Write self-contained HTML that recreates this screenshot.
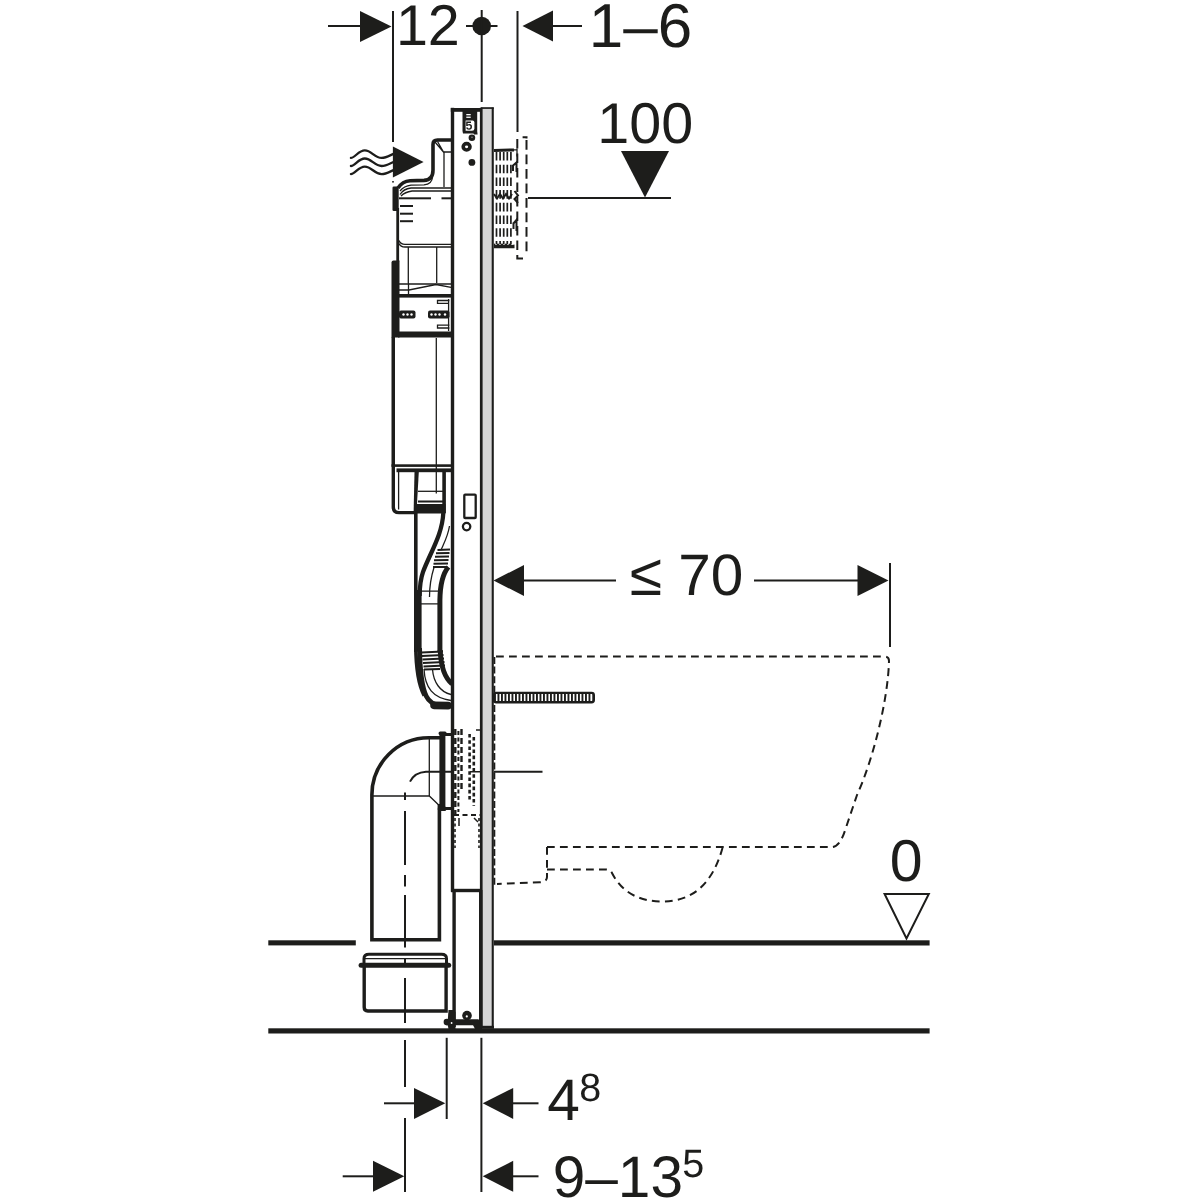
<!DOCTYPE html>
<html lang="en">
<head>
<meta charset="utf-8">
<title>Installation dimensions – side view</title>
<style>
  html, body { margin: 0; padding: 0; background: #fff; }
  body { width: 1200px; height: 1200px; overflow: hidden; }
  svg { display: block; will-change: transform; }
  text { font-family: "Liberation Sans", Arial, Helvetica, sans-serif; fill: #1d1d1b; text-rendering: geometricPrecision; }
  .k { fill: #1d1d1b; stroke: none; }
  .l { fill: none; stroke: #1d1d1b; stroke-width: 2; }
  .t { fill: none; stroke: #1d1d1b; stroke-width: 1.3; }
  .m { fill: none; stroke: #1d1d1b; stroke-width: 3; }
  .h { fill: none; stroke: #1d1d1b; stroke-width: 4; }
  .d { fill: none; stroke: #1d1d1b; stroke-width: 2; stroke-dasharray: 7.8 5.2; }
</style>
</head>
<body>
<svg width="1200" height="1200" viewBox="0 0 1200 1200">
<rect x="0" y="0" width="1200" height="1200" fill="#ffffff"/>

<!-- ===== TOP DIMENSIONS ===== -->
<g id="topdims">
  <line class="l" x1="328" y1="26" x2="362" y2="26"/>
  <polygon class="k" points="360,11 360,42 391.5,26.5"/>
  <line class="l" x1="393" y1="11" x2="393" y2="142"/>
  <text x="395.9" y="45.3" font-size="57.5">12</text>
  <circle class="k" cx="481.7" cy="26" r="9.3"/>
  <line class="l" x1="466" y1="26" x2="497.5" y2="26"/>
  <line class="l" x1="481.7" y1="10" x2="481.7" y2="102"/>
  <line class="l" x1="517.5" y1="11" x2="517.5" y2="132"/>
  <polygon class="k" points="522.5,26 553,10.5 553,41.5"/>
  <line class="l" x1="552" y1="26" x2="582" y2="26"/>
  <text x="588.8" y="47" font-size="62">1–6</text>
  <text x="597.3" y="142.8" font-size="57.5">100</text>
  <polygon class="k" points="621,151 669,151 645,197.5"/>
  <line class="l" x1="528" y1="198" x2="671" y2="198"/>
</g>

<!-- ===== FRAME ===== -->
<g id="frame">
  <rect x="482" y="107.6" width="10.5" height="920.4" fill="#d6d6d6"/>
  <rect class="k" x="479.9" y="107.6" width="2.7" height="920.4"/>
  <rect class="k" x="491.7" y="107.6" width="2.1" height="920.4"/>
  <rect class="k" x="481" y="107.2" width="12.8" height="1.7"/>
  <rect class="k" x="450.8" y="107.8" width="3.4" height="784"/>
  <rect class="k" x="450.8" y="108" width="31" height="3.8"/>
</g>

<!-- ===== FLOOR ===== -->
<g id="floor">
  <rect class="k" x="268.3" y="940.3" width="87.5" height="5.1"/>
  <rect class="k" x="494" y="940.3" width="435.6" height="5.2"/>
  <rect class="k" x="268.3" y="1028.3" width="661.3" height="5.2"/>
</g>


<!-- ===== INLET ARROW + WAVES ===== -->
<g id="inlet">
  <path d="M350.9,157.9 C355.0,157.9 358.5,150.4 364.8,150.4 C371.5,150.4 374.5,157.9 381.6,157.9 C386.0,157.9 389.5,155.6 393.5,153.9" fill="none" stroke="#1d1d1b" stroke-width="2.3" stroke-linecap="round"/>
  <path d="M350.9,166.0 C355.0,166.0 358.5,158.5 364.8,158.5 C371.5,158.5 374.5,166.0 381.6,166.0 C386.0,166.0 389.5,163.7 393.5,162.0" fill="none" stroke="#1d1d1b" stroke-width="2.3" stroke-linecap="round"/>
  <path d="M350.9,174.1 C355.0,174.1 358.5,166.6 364.8,166.6 C371.5,166.6 374.5,174.1 381.6,174.1 C386.0,174.1 389.5,171.8 393.5,170.1" fill="none" stroke="#1d1d1b" stroke-width="2.3" stroke-linecap="round"/>
  <polygon class="k" points="392.9,146.6 392.9,177.4 423.6,162"/>
  <rect class="k" x="392.2" y="181" width="1.6" height="1.6"/>
</g>

<!-- ===== CISTERN ===== -->
<g id="cistern">
  <!-- top knob outline -->
  <path d="M451,140 L437.5,140 Q433,140 433,144.5 L433,170 Q433,180 424,180.4 L410,180.7 Q402.5,181.2 398,188" fill="none" stroke="#1d1d1b" stroke-width="3.6"/>
  <path class="t" d="M451,152 L443.5,152 L435,142 M443.5,152 L437.5,141.5"/>
  <path class="t" d="M444,151.7 L444,187"/>
  <path class="t" d="M432.5,177 Q432,184.3 424,184.8 L411,185.2 Q404,186 400,191"/>
  <path class="t" d="M451,188 L411,188 Q403.5,188.8 400,194.5 M451,191 L412,191 Q405,192 401,196"/>
  <!-- left black bars -->
  <rect class="k" x="392.5" y="186.5" width="6.2" height="24.5" rx="1.3"/>
  <rect class="k" x="396.3" y="208" width="2.8" height="54"/>
  <path class="k" d="M391.5,337.5 L391.5,262.5 Q391.5,260.5 393.5,260.5 L399.5,260.5 L399.5,337.5 Z"/>
  <!-- inner details -->
  <line class="l" x1="399" y1="198.3" x2="431" y2="198.3"/>
  <line class="l" x1="441.5" y1="198.3" x2="451" y2="198.3"/>
  <line class="l" x1="400" y1="206" x2="413" y2="206"/>
  <line class="l" x1="400" y1="213.7" x2="413" y2="213.7"/>
  <line class="l" x1="400" y1="221.2" x2="413" y2="221.2"/>
  <path class="t" d="M399,240.5 Q400.5,244.4 405,244.4 L451,244.4 M399,243.5 Q400.5,247 405,247 L451,247"/>
  <line class="t" x1="408.3" y1="247" x2="408.3" y2="283"/>
  <line class="t" x1="436.7" y1="247" x2="436.7" y2="283"/>
  <line class="t" x1="399" y1="284" x2="451" y2="284"/>
  <path class="t" d="M399,290 L409,290 L436,284.5 L451,287.3"/>
  <line class="t" x1="408.5" y1="283" x2="408.5" y2="295"/>
  <rect class="k" x="398" y="294" width="53" height="3.6"/>
  <rect class="k" x="398" y="331.5" width="53" height="6"/>
  <!-- clamp box details -->
  <rect class="k" x="399" y="310.5" width="16.5" height="8" rx="2"/>
  <rect class="k" x="428" y="310.5" width="21.5" height="8" rx="2"/>
  <g fill="#fff"><circle cx="403.5" cy="314.5" r="1.2"/><circle cx="407.5" cy="314.5" r="1.2"/><circle cx="411.5" cy="314.5" r="1.2"/>
  <circle cx="431.5" cy="314.5" r="1.2"/><circle cx="435.5" cy="314.5" r="1.2"/><circle cx="439.5" cy="314.5" r="1.2"/><circle cx="445" cy="314.5" r="1.2"/></g>
  <path class="t" d="M449.5,300.5 L437.5,300.5 L437.5,303.3 L448,303.3 M449.5,325.2 L437.5,325.2 L437.5,328 L449.5,328 M448.6,299 L448.6,331"/>
  <!-- lower tank rectangle -->
  <rect class="k" x="391.5" y="337" width="3.5" height="129"/>
    <line class="t" x1="436.3" y1="338" x2="436.3" y2="493.5"/>
  <rect class="k" x="391.5" y="464.3" width="59.5" height="2.6"/>
  <rect class="k" x="396.5" y="468.4" width="54.5" height="3.8"/>
  <!-- bottom part -->
  <path d="M393.3,466 L393.3,507 Q393.3,512.6 399,512.6 L415,512.6" fill="none" stroke="#1d1d1b" stroke-width="3.4"/>
  <path class="t" d="M398.6,471.5 L398.6,509.5"/>
  <path d="M414.5,472 L418.8,472 L416.5,513 L413.6,513 Z" class="k"/>
  <rect class="k" x="414" y="504" width="31.5" height="9.5"/>
  <rect class="k" x="442.3" y="472" width="3.6" height="41"/>
  <line class="t" x1="418" y1="491.3" x2="443" y2="491.3"/>
  <line class="l" x1="418" y1="501.5" x2="443" y2="501.5"/>
</g>


<!-- ===== FRAME TOP BRACKET / HOLES ===== -->
<g id="bracket">
  <path class="k" d="M462.5,111 L477.2,111 L477.2,131.2 L477.6,134.6 L474,134.6 L473.5,133.4 L463,133.4 L462.5,131 Z"/>
  <rect x="466.3" y="114" width="4.4" height="1.3" fill="#fff"/>
  <rect x="466.3" y="116.6" width="4.4" height="1.3" fill="#fff"/>
  <path d="M465.6,120.4 L472.6,120.4 Q474.4,120.4 474.4,122.5 L474.4,128.5 Q474.4,130.8 472,130.8 L465.6,130.8 Z" fill="#fff"/>
  <path d="M466.2,121.6 L471,121.6 L471,122.9 L467.6,122.9 L467.6,124.4 Q468.4,124 469.3,124 Q472,124 472,126.8 Q472,129.8 469,129.8 Q466.6,129.8 466,127.8 L467.4,127.3 Q467.8,128.5 469,128.5 Q470.5,128.5 470.5,126.8 Q470.5,125.3 469,125.3 Q468,125.3 467.5,126 L466.2,126 Z" class="k"/>
  <circle class="k" cx="471.9" cy="137.8" r="3.3"/>
  <circle cx="472" cy="137.2" r="0.8" fill="#8a8a8a"/>
  <ellipse cx="466.6" cy="146.8" rx="3.4" ry="3.2" fill="#fff" stroke="#1d1d1b" stroke-width="3.6"/>
  <circle class="k" cx="471.9" cy="162.4" r="3.4"/>
  <!-- small rectangle + hole mid frame -->
  <rect x="464.3" y="494.6" width="11.4" height="23.4" rx="0.8" fill="#fff" stroke="#1d1d1b" stroke-width="2.3"/>
  <circle cx="466.6" cy="526.6" r="3.7" fill="#fff" stroke="#1d1d1b" stroke-width="2.3"/>
</g>

<!-- ===== WALL ANCHOR (dashed) ===== -->
<g id="anchor">
  <path d="M517.3,139 L517.3,258.4 L523,258.4" fill="none" stroke="#1d1d1b" stroke-width="2" stroke-dasharray="9.5 5"/>
  <path class="l" d="M522.6,137.2 L526.5,137.2 L526.5,138.6"/>
  <path d="M526.5,140.1 L526.5,255" fill="none" stroke="#1d1d1b" stroke-width="2" stroke-dasharray="9.6 4.9"/>
  <path class="m" d="M494,150.6 L514,149.9"/>
  <path class="t" d="M514,149.9 L517.5,149.9 M517,148.5 L517,156.5"/>
  <path class="k" d="M494,243.2 L496,245 L498,243.2 L500,245 L502,243.2 L504,245 L506,243.2 L508,245 L510,243.2 L512,245 L514.5,244.6 L514.5,248.2 L494,248.2 Z"/>
  <g stroke="#1d1d1b" stroke-width="1.7" fill="none" stroke-dasharray="8.6 4.1">
    <line x1="496.5" y1="152" x2="496.5" y2="244"/>
    <line x1="500.1" y1="152" x2="500.1" y2="244"/>
    <line x1="503.7" y1="152" x2="503.7" y2="244"/>
    <line x1="507.3" y1="152" x2="507.3" y2="244"/>
    <line x1="510.9" y1="152" x2="510.9" y2="244"/>
  </g>
  <path class="l" d="M512.5,166 L516.5,162.5 L516.5,172 M513,165 L513,171 M494,194 L497,198.5 L500,194 L503,198.5 L506,194 L509,198.5 L512,194 M514.5,191 L518,195.5 L514.5,199 L518,203 M513,224 L516.5,220 L516.5,231 M513.5,222.5 L513.5,229"/>
</g>


<!-- ===== FLUSH PIPE + HOSE ===== -->
<g id="hose">
  <!-- flush pipe outer-left edge and hose left edge (adjacent) -->
  <rect class="k" x="414" y="512" width="3.6" height="140"/>
  <rect class="k" x="417" y="590" width="4.6" height="61"/>
  <!-- hose S-curve -->
  <path d="M443.3,513 C442.3,535 430,553 423,572 Q419.8,581 419.6,596" fill="none" stroke="#1d1d1b" stroke-width="4.3"/>
  <path class="t" d="M449.5,526 C448,536 444,543 441,550"/>
  <!-- upper coil -->
  <path class="l" d="M437.5,550 L450,549.5 M436,553.3 L449.5,553 M435,556.8 L449,556.5 M434,560.3 L448.5,560 M433.5,563.8 L448,563.5 M433,567 L447.5,567"/>
  <path class="t" d="M434,567.5 C431,577 429.5,586 429.5,597"/>
  <path d="M448.3,567 C441.8,575 440.1,586 439.9,600 L439.9,652" fill="none" stroke="#1d1d1b" stroke-width="5"/>
  <path class="t" d="M421,591.2 L438,591.2 M421,603.8 L438,603.8"/>
  <!-- lower coil -->
  <path class="l" d="M421.5,652.5 L443,651.5 M422,656 L443.5,655 M422.5,659.5 L444,658.5 M423,663 L444.5,662 M423.5,666.5 L445,665.5 M424,669.5 L440,669"/>
  <!-- lower elbow -->
  <path d="M419.6,648 C419.9,670 421.3,686 426.3,696.3 Q430.3,704.4 440,705.4 L451,705.6" fill="none" stroke="#1d1d1b" stroke-width="4.8"/>
  <path d="M434,705.4 L448,705.6" fill="none" stroke="#1d1d1b" stroke-width="7.6" stroke-linecap="round"/>
  <path d="M415.8,645 C415.9,668 418,684 424.2,695.6" fill="none" stroke="#1d1d1b" stroke-width="3.6"/>
  <path d="M440.2,650 C440.8,666 445,678 452,683.8" fill="none" stroke="#1d1d1b" stroke-width="5"/>
  <path class="t" d="M424,669 C425,688 433,698 451,700.5 M432.5,669.5 C433.5,682 440,692 451,694.5"/>
</g>

<!-- ===== DRAIN ELBOW + PIPE ===== -->
<g id="drain">
  <path d="M440,737.8 L428.9,737.8 A57,57 0 0 0 371.9,794.8 L371.9,939.8 L439.4,939.8 L439.4,804" fill="none" stroke="#1d1d1b" stroke-width="3.6"/>
  <rect class="k" x="439.4" y="733" width="6" height="77.5"/>
  <rect class="k" x="438.6" y="731.4" width="8" height="3.6" rx="1.6"/>
  <rect class="k" x="437.8" y="806.5" width="8.6" height="4.4" rx="1.6"/>
  <path d="M445,808.6 L451,808.6 M445,734.6 L451,734.6" fill="none" stroke="#1d1d1b" stroke-width="3"/>
  <line class="t" x1="429.3" y1="738" x2="429.3" y2="796"/>
  <path class="l" d="M451,771.8 L426,771.8 C419,772.2 413,775.8 410,781.6"/>
  <path class="t" d="M373,796 L429.3,796 L439,805.2"/>
  <line class="l" x1="494" y1="771.7" x2="542.5" y2="771.7"/>
  <!-- centre line -->
  <path class="l" d="M405,792.5 L405,800 M405,811 L405,865 M405,875 L405,886.5 M405,895 L405,947.5 M405,958 L405,964 M405,978 L405,1023 M405,1040 L405,1087 M405,1118 L405,1192"/>
</g>

<!-- ===== CONNECTOR IN FRAME (hidden lines) ===== -->
<g id="connector">
  <g stroke="#1d1d1b" fill="none">
    <path stroke-width="2.4" stroke-dasharray="6 3" d="M455.3,729 L455.3,814 M461.5,729 L461.5,790"/>
    <path stroke-width="2" stroke-dasharray="4 2.5" d="M458.4,731 L458.4,812"/>
    <path stroke-width="2.6" stroke-dasharray="3.6 2.6" d="M469.6,734 L469.6,800 M473.8,737 L473.8,806"/>
    <path stroke-width="2" stroke-dasharray="5 3.5" d="M454,815 L480,815"/>
    <path stroke-width="1.6" stroke-dasharray="3 2.5" d="M455,818 L455,848 M479,818 L479,848"/>
    <path stroke-width="1.5" d="M476,730 L480,730 M470,771.7 L480,771.7 M459,818 L459,826 M474,818 L478,822"/>
  </g>
</g>

<!-- ===== FRAME LEG + FOOT ===== -->
<g id="leg">
  <rect class="k" x="451" y="888.8" width="30" height="3.4"/>
  <rect class="k" x="452.4" y="890" width="3.4" height="137"/>
  <rect class="k" x="479" y="890" width="3.4" height="137"/>
  <circle class="k" cx="467" cy="1015.6" r="4.8"/>
  <circle cx="466.8" cy="1016.4" r="1.1" fill="#fff"/>
  <rect class="k" x="445" y="1019.2" width="34.5" height="6" rx="1.5"/>
  <circle class="k" cx="446.8" cy="1022" r="3.2"/>
  <path class="k" d="M448.5,1010 L453,1010 L455.5,1012 L455.5,1029 L448.5,1029 L447.5,1024 Z"/>
  <circle cx="451.6" cy="1023" r="0.9" fill="#fff"/>
  <path class="k" d="M472.5,1024 L482,1024 L482,1029 L475,1029 Z"/>
  <rect class="k" x="481" y="1025.8" width="13" height="3"/>
</g>

<!-- ===== FLOOR SOCKET ===== -->
<g id="socket">
  <path class="m" d="M364,964 L364,958.5 Q364,954.3 369,954.3 L441.5,954.3 Q446.5,954.3 446.5,958.5 L446.5,964"/>
  <line class="t" x1="365" y1="958.6" x2="446" y2="958.6"/>
  <rect class="k" x="358.6" y="962.8" width="92.6" height="5" rx="2.5"/>
  <path d="M364.2,967 L364.2,1007.3 Q364.2,1011 367.8,1011 L446.1,1011 L446.1,967" fill="none" stroke="#1d1d1b" stroke-width="3.4"/>
</g>

<!-- ===== THREADED ROD ===== -->
<g id="rod">
  <rect x="494" y="692.9" width="99.8" height="9.4" rx="2.2" fill="#fff" stroke="#1d1d1b" stroke-width="2.4"/>
  <path d="M494,697.6 L592.5,697.6" stroke="#1d1d1b" stroke-width="8" stroke-dasharray="1.9 1.6" fill="none"/>
</g>


<!-- ===== DIMENSION <= 70 ===== -->
<g id="dim70">
  <polygon class="k" points="493.5,580.5 524,565 524,596"/>
  <line class="l" x1="523" y1="580.5" x2="616" y2="580.5"/>
  <text x="629.8" y="594.7" font-size="59">≤</text>
  <text x="678.3" y="594.8" font-size="58.5">70</text>
  <line class="l" x1="754" y1="580.5" x2="858.5" y2="580.5"/>
  <polygon class="k" points="857.5,565 857.5,596 888.5,580.5"/>
  <line class="l" x1="890" y1="563" x2="890" y2="647"/>
</g>

<!-- ===== WC BOWL OUTLINE (dashed) ===== -->
<g id="bowl">
  <path class="d" d="M496,656.5 L884.5,656.5 Q889,656.5 889,661 C888,700 873,760 857,795 L845.5,829 Q840,847 832,847 L547,847"/>
  <path class="d" d="M547,847 L547,877 Q547,882 540,882.3 L497,884"/>
  <path class="d" d="M547,869.5 L606,869.5 Q610,869.5 612,873 C622,893 640,901.5 662,901.5 C692,901.5 712,885 722.5,848"/>
  <path d="M494.4,657 L494.4,885" fill="none" stroke="#1d1d1b" stroke-width="1.8" stroke-dasharray="7 2.6"/>
</g>

<!-- ===== LEVEL MARKS ===== -->
<g id="levels">
  <text x="889.8" y="881.3" font-size="59">0</text>
  <polygon points="884.6,894 928.8,894 906.5,938.5" fill="#fff" stroke="#1d1d1b" stroke-width="2"/>
</g>

<!-- ===== BOTTOM DIMENSIONS ===== -->
<g id="botdims">
  <line class="l" x1="446.7" y1="1037.8" x2="446.7" y2="1119"/>
  <line class="l" x1="481.4" y1="1037.8" x2="481.4" y2="1192"/>
  <line class="l" x1="384" y1="1103.3" x2="415" y2="1103.3"/>
  <polygon class="k" points="414,1088 414,1119 445.3,1103.3"/>
  <polygon class="k" points="482.7,1103.3 513.2,1088 513.2,1119"/>
  <line class="l" x1="512" y1="1103.3" x2="538.5" y2="1103.3"/>
  <line class="l" x1="342.7" y1="1176.3" x2="374" y2="1176.3"/>
  <polygon class="k" points="373,1160.8 373,1191.8 404.3,1176.3"/>
  <polygon class="k" points="482.7,1176.3 513.2,1160.8 513.2,1191.8"/>
  <line class="l" x1="512" y1="1176.3" x2="538.5" y2="1176.3"/>
  <text x="547.2" y="1119.8" font-size="58.6">4</text>
  <text x="579.2" y="1100.6" font-size="39.5">8</text>
  <text x="552.7" y="1196.8" font-size="58.6">9–13</text>
  <text x="682.2" y="1177.4" font-size="39.5">5</text>
</g>

</svg>
</body>
</html>
